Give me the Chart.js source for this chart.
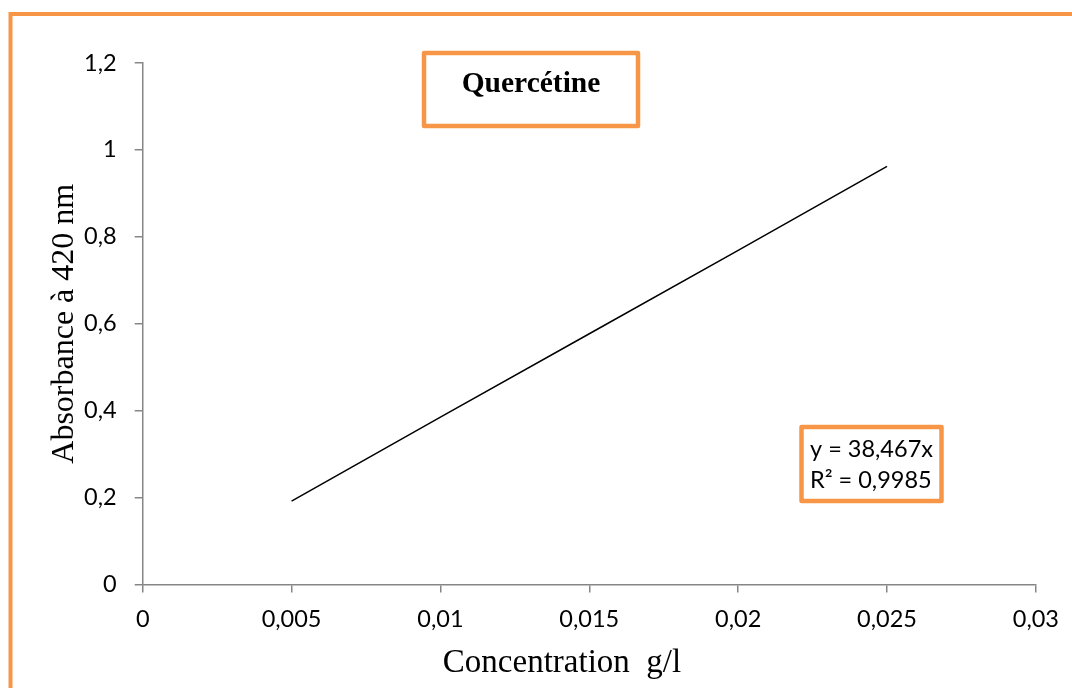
<!DOCTYPE html>
<html lang="fr">
<head>
    <meta charset="UTF-8">
    <title>Quercétine</title>
    <script src="https://cdn.jsdelivr.net/npm/chart.js"></script>
    <style>
        body { margin: 0; background: white; }
        #wrap { width: 1072px; height: 688px; }
    </style>
</head>
<body>
    <div id="wrap"><canvas id="myChart" width="1072" height="688"></canvas></div>

    <script>
        // concentration (g/l) and absorbance values
        const concentrations = [0.005, 0.01, 0.015, 0.02, 0.025];
        const absorbances = [0.192, 0.385, 0.577, 0.769, 0.962];
        const equationLines = ['y = 38,467x', 'R² = 0,9985'];
        const chartTitle = 'Quercétine';
        const xTitle = 'Concentration  g/l';
        const yTitle = 'Absorbance à 420 nm';

        const orange = '#F79646';
        const axisGrey = '#868686';

        function comma(v) {
            return String(Math.round(v * 1000) / 1000).replace('.', ',');
        }

        // frame, title box, equation box and x title
        const decor = {
            id: 'decor',
            beforeDraw(chart) {
                const ctx = chart.ctx;
                ctx.save();
                ctx.fillStyle = 'white';
                ctx.fillRect(0, 0, chart.width, chart.height);
                ctx.strokeStyle = orange;
                ctx.lineWidth = 4;
                ctx.strokeRect(10.5, 14, 1200, 900);
                ctx.restore();
            },
            afterDraw(chart) {
                const ctx = chart.ctx;
                ctx.save();
                ctx.strokeStyle = orange;
                ctx.lineWidth = 4.5;
                ctx.lineJoin = 'round';
                ctx.strokeRect(424, 53, 214, 73);
                ctx.strokeRect(801.5, 427, 140, 74);

                ctx.fillStyle = 'black';
                ctx.textAlign = 'center';
                ctx.textBaseline = 'alphabetic';
                ctx.font = 'bold 29.5px "Liberation Serif", "Times New Roman", serif';
                ctx.fillText(chartTitle, 531, 92);

                ctx.textAlign = 'left';
                ctx.font = '23.5px Lato, sans-serif';
                ctx.fillText(equationLines[0], 810, 457);
                ctx.fillText(equationLines[1], 810, 488);

                ctx.textAlign = 'center';
                ctx.font = '33px "Liberation Serif", "Times New Roman", serif';
                ctx.fillText(xTitle, 562, 672);
                ctx.restore();
            }
        };

        const ctx = document.getElementById('myChart').getContext('2d');
        new Chart(ctx, {
            type: 'scatter',
            data: {
                datasets: [{
                    label: 'Quercétine',
                    data: concentrations.map((c, i) => ({ x: c, y: absorbances[i] })),
                    showLine: true,
                    borderColor: 'black',
                    borderWidth: 1.5,
                    pointRadius: 0,
                    pointHoverRadius: 0
                }]
            },
            options: {
                responsive: false,
                animation: false,
                layout: { padding: { top: 63, right: 34, left: 0, bottom: 0 } },
                plugins: {
                    legend: { display: false },
                    tooltip: { enabled: false }
                },
                scales: {
                    x: {
                        type: 'linear',
                        min: 0,
                        max: 0.03,
                        afterFit(scale) { scale.height = 103.5; },
                        ticks: {
                            stepSize: 0.005,
                            color: 'black',
                            padding: 13,
                            maxRotation: 0,
                            font: { family: 'Lato', size: 23.5 },
                            callback: v => comma(v)
                        },
                        grid: {
                            drawOnChartArea: false,
                            drawTicks: true,
                            tickLength: 8,
                            color: axisGrey,
                            lineWidth: 1.5
                        },
                        border: { color: axisGrey, width: 1.5 }
                    },
                    y: {
                        min: 0,
                        max: 1.2,
                        afterFit(scale) { scale.width = 142.7; },
                        ticks: {
                            stepSize: 0.2,
                            color: 'black',
                            padding: 18,
                            font: { family: 'Lato', size: 23.5 },
                            callback: v => comma(v)
                        },
                        grid: {
                            drawOnChartArea: false,
                            drawTicks: true,
                            tickLength: 8,
                            color: axisGrey,
                            lineWidth: 1.5
                        },
                        border: { color: axisGrey, width: 1.5 },
                        title: {
                            display: true,
                            text: yTitle,
                            color: 'black',
                            padding: { top: 45, bottom: 0 },
                            font: { family: '"Liberation Serif", "Times New Roman", serif', size: 32 }
                        }
                    }
                }
            },
            plugins: [decor]
        });
    </script>
</body>
</html>
